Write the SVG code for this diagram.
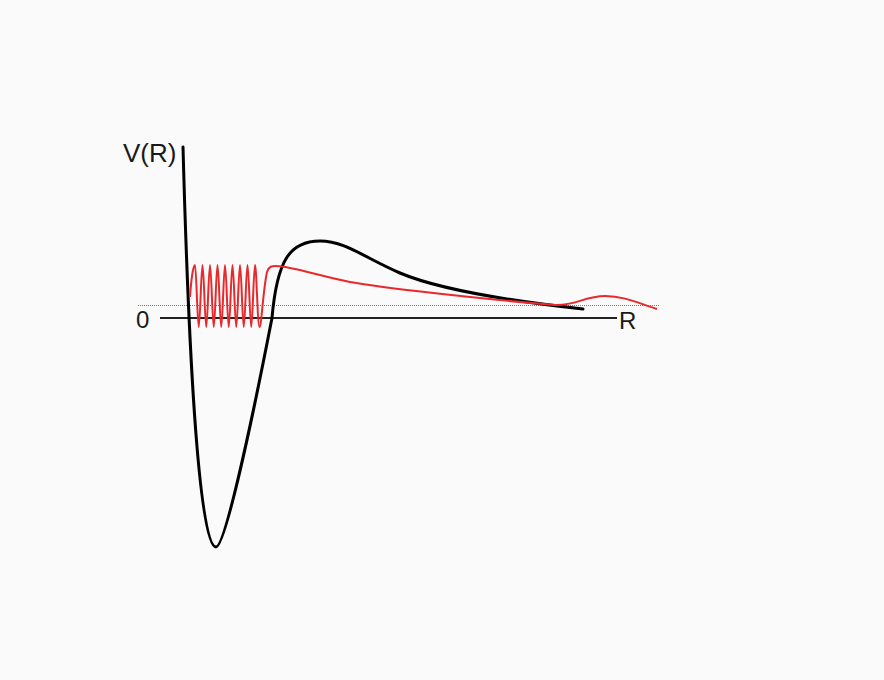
<svg xmlns="http://www.w3.org/2000/svg" width="884" height="680" viewBox="0 0 884 680">
<style>
.lbl{font-family:"Liberation Sans",Arial,sans-serif;fill:#1a1a1a}
.pot{fill:none;stroke:#000;stroke-width:3;stroke-linecap:round;stroke-linejoin:round}
.wave{fill:none;stroke:#e8292c;stroke-width:2;stroke-linejoin:round}
</style>
<rect width="884" height="680" fill="#fafafa"/>
<g id="axes">
<line x1="160" y1="318" x2="617" y2="318" stroke="#222" stroke-width="2"/>
<line x1="138" y1="305.5" x2="660" y2="305.5" stroke="#777" stroke-width="1" stroke-dasharray="1,1"/>
<text class="lbl" x="123" y="162" font-size="26">V(R)</text>
<text class="lbl" x="136" y="328" font-size="24">0</text>
<text class="lbl" x="619" y="329" font-size="24">R</text>
</g>
<g id="potential">
<path class="pot" d="M183,147 C188,330 198,547 216,547 C226,547 258,390 272,318 C277,260 290,241 320,241 C345,241 365,258 400,273 C440,290 520,302 583,309"/>
</g>
<g id="wavefunction">
<path class="wave" d="M190,297 C191,282 193,265 195,265
C196.37,265 197.38,327 198.75,327 C200.12,327 201.13,265 202.5,265
C203.87,265 204.88,327 206.25,327 C207.62,327 208.63,265 210,265
C211.37,265 212.38,327 213.75,327 C215.12,327 216.13,265 217.5,265
C218.87,265 219.88,327 221.25,327 C222.62,327 223.63,265 225,265
C226.37,265 227.38,327 228.75,327 C230.12,327 231.13,265 232.5,265
C233.87,265 234.88,327 236.25,327 C237.62,327 238.63,265 240,265
C241.37,265 242.38,327 243.75,327 C245.12,327 246.13,265 247.5,265
C248.87,265 249.88,327 251.25,327 C252.62,327 253.63,265 255,265
C256.5,265 257.5,327 259.5,327 C261.5,327 263,290 267,272 C269,266 272,266 276,266
C290,266 320,276 350,282 C380,287.5 480,299 555,305 C575,306 585,296 605,296 C625,296 640,304 657,309"/>
</g>
</svg>
